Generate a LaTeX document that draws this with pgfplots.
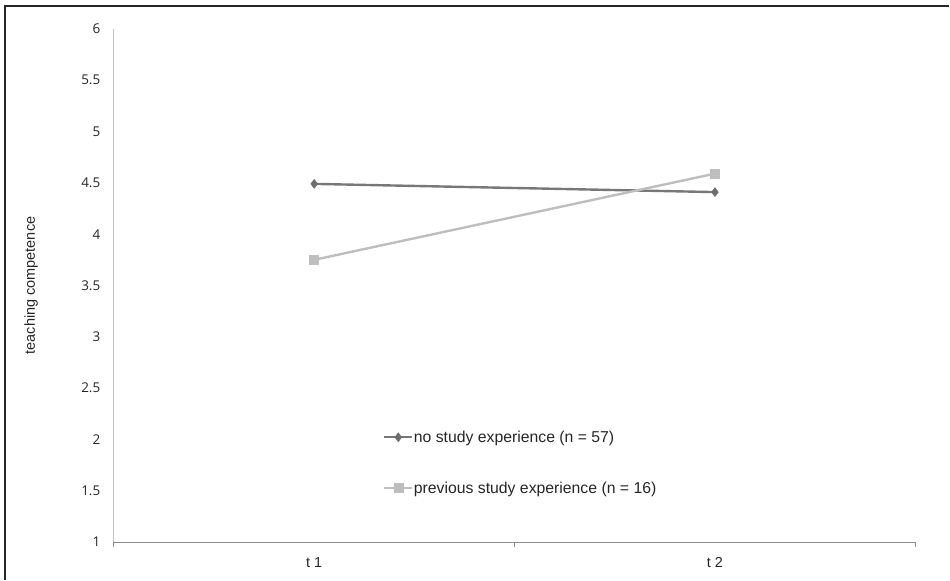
\documentclass[border=0pt]{standalone}
\usepackage{fontspec}
\setmainfont{Liberation Sans}
\newfontfamily\tickfont{Open Sans}
\usepackage{pgfplots}
\pgfplotsset{compat=1.18}
\definecolor{darkser}{HTML}{787878}
\definecolor{darkmark}{HTML}{6E6E6E}
\definecolor{lightser}{HTML}{BEBEBE}
\definecolor{yaxis}{HTML}{C4C4C4}
\definecolor{xaxis}{HTML}{8C8C8C}
\definecolor{txt}{HTML}{262626}

\begin{document}
\begin{tikzpicture}
  % page frame (only left and top edges are visible in the reference)
  \path (0pt,0pt) rectangle (950pt,580pt);
  \draw[line width=1.5pt, black!85] (5pt,-1pt) -- (5pt,574pt) -- (951pt,574pt);

  \begin{axis}[
    at={(114pt,37pt)}, anchor=south west,
    scale only axis, width=803pt, height=514pt,
    xmin=0.5, xmax=2.5, ymin=1, ymax=6,
    axis lines*=left,
    x axis line style={xaxis, line width=1pt},
    y axis line style={yaxis, line width=1pt},
    xtick={1,2}, xticklabels={t 1, t 2},
    minor xtick={0.5,1.5,2.5},
    xtick align=outside,
    major x tick style={draw=none},
    minor x tick style={xaxis, line width=1pt},
    minor tick length=5pt,
    ytick={1,1.5,...,6},
    major y tick style={draw=none},
    /pgf/number format/assume math mode=true,
    yticklabel style={font=\tickfont\fontsize{13.5}{15}\selectfont, text=txt, xshift=-10pt},
    xticklabel style={font=\fontsize{14.5}{16}\selectfont, text=txt, yshift=-8pt},
    ylabel={teaching competence},
    ylabel style={at={(axis description cs:-0.103,0.5)}, anchor=center,
      font=\fontsize{14.5}{16}\selectfont, text=txt},
    legend style={at={(0.332,0.222)}, anchor=north west, draw=none, fill=none,
      font=\fontsize{15.8}{18}\selectfont, text=txt, row sep=37pt,
      nodes={inner sep=0.5pt}},
    legend cell align=left,
    legend image code/.code={%
      \draw[mark repeat=2, mark phase=2] plot coordinates {(0pt,0pt) (14pt,0pt) (28pt,0pt)};},
  ]
    \addplot[darkser, line width=2.4pt, mark=diamond*, mark size=4.5pt,
      mark options={fill=darkmark, draw=darkmark, line width=0.5pt}]
      coordinates {(1,4.49) (2,4.41)};
    \addlegendentry{no study experience (n = 57)}

    \addplot[lightser, line width=2.4pt, mark=square*, mark size=4.5pt,
      mark options={fill=lightser, draw=lightser, line width=0.5pt}]
      coordinates {(1,3.75) (2,4.59)};
    \addlegendentry{previous study experience (n = 16)}
  \end{axis}
\end{tikzpicture}
\end{document}
